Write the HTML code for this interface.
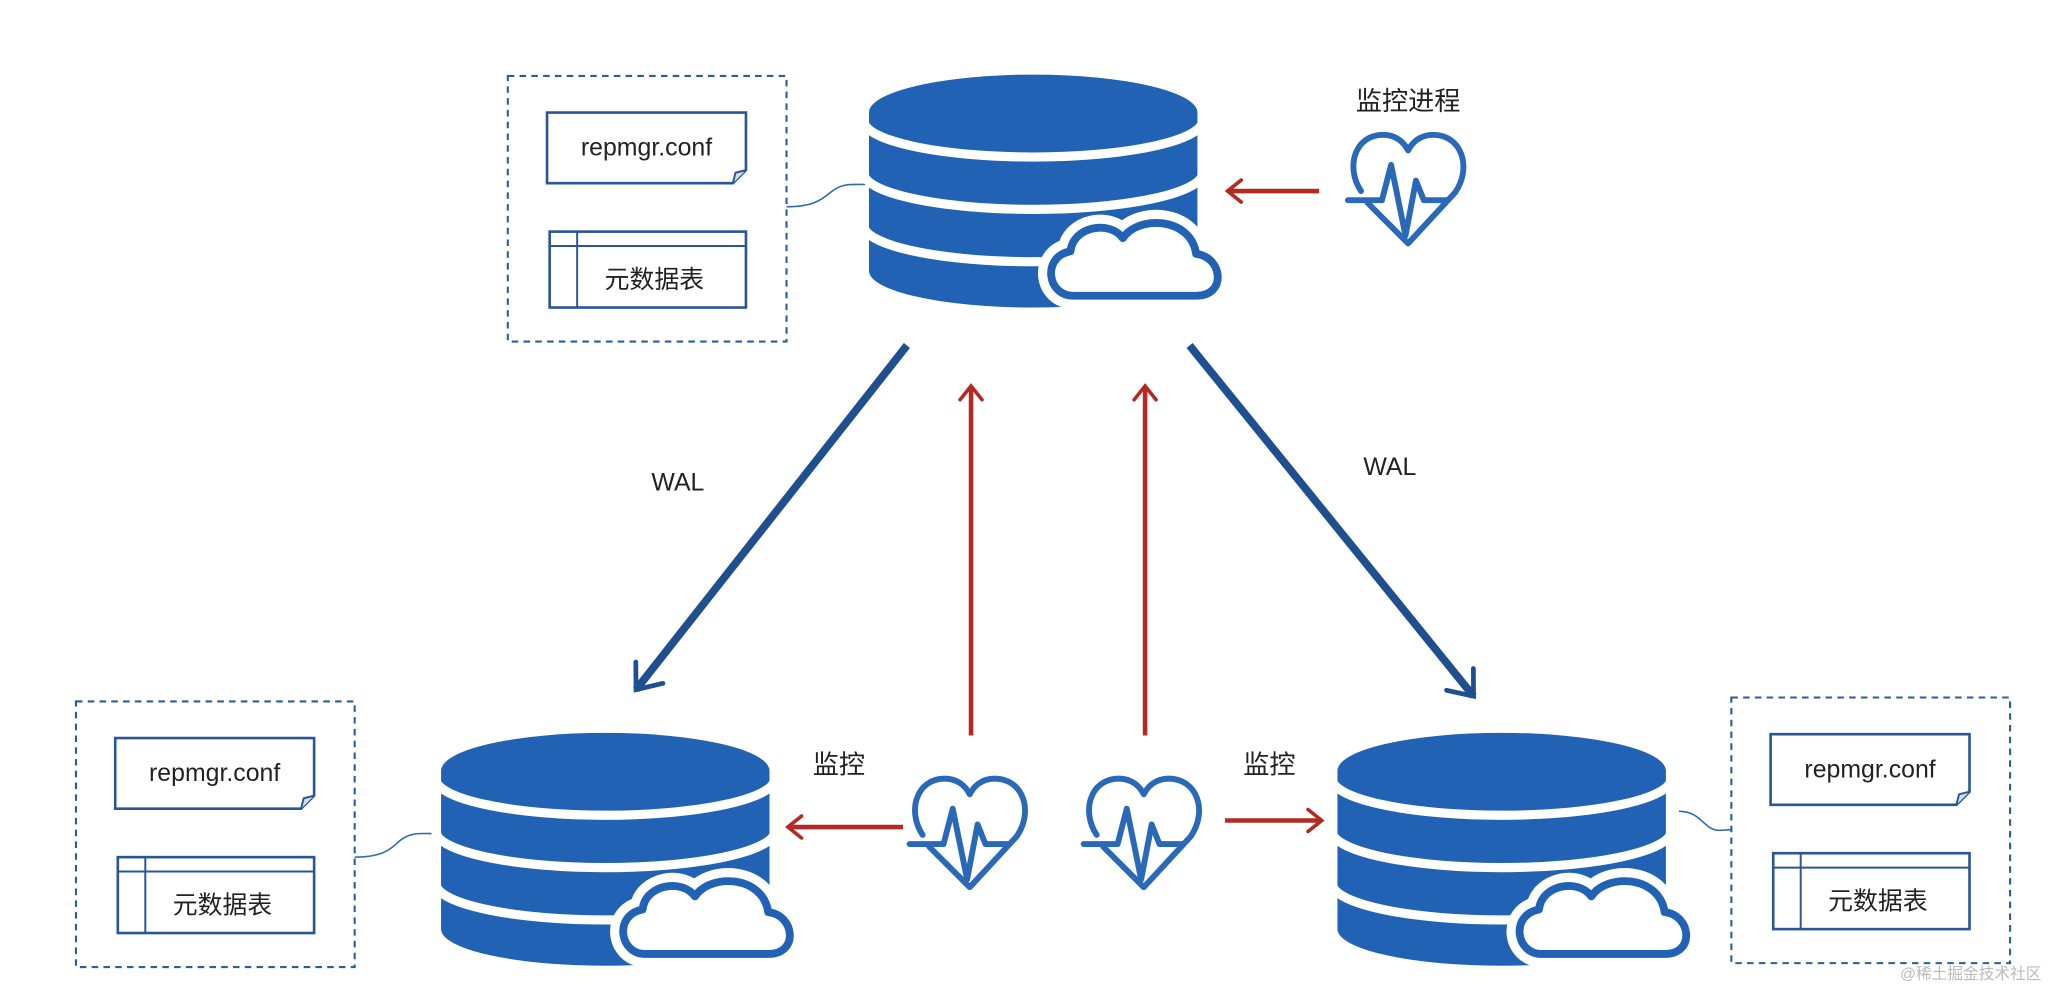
<!DOCTYPE html>
<html><head><meta charset="utf-8"><style>
html,body{margin:0;padding:0;background:#fff;}
svg{display:block;}
text{font-family:"Liberation Sans","Noto Sans CJK SC",sans-serif;fill:#222;}
</style></head><body>
<svg width="2052" height="988" viewBox="0 0 1568 755" xmlns="http://www.w3.org/2000/svg">
<defs>
  <g id="db">
    <path d="M664,86 L664,207 A125.5,28 0 0 0 915,207 L915,86 Z" fill="#2262b4"/>
    <ellipse cx="789.5" cy="86" rx="125.5" ry="29" fill="#2262b4"/>
    <path d="M660,92 A129.5,28 0 0 0 919,92" fill="none" stroke="#fff" stroke-width="7"/>
    <path d="M660,132 A129.5,28 0 0 0 919,132" fill="none" stroke="#fff" stroke-width="7"/>
    <path d="M660,172 A129.5,28 0 0 0 919,172" fill="none" stroke="#fff" stroke-width="7"/>
    <path d="M820,226 C800,226 796,196 818,192 C820,173 848,168 858,182 C870,164 910,166 914,194 C934,196 938,226 914,226 Z" fill="#fff" stroke="#fff" stroke-width="20" stroke-linejoin="round"/>
    <path d="M820,226 C800,226 796,196 818,192 C820,173 848,168 858,182 C870,164 910,166 914,194 C934,196 938,226 914,226 Z" fill="#fff" stroke="#2262b4" stroke-width="6" stroke-linejoin="round"/>
  </g>
  <g id="heart">
    <path d="M10,46 C-2,28 5,3 27,3 C37,3 43,9 46,15 C49,9 55,3 65,3 C87,3 95,28 82,47 L46,86 L15,55" fill="none" stroke="#2a68b8" stroke-width="4.5" stroke-linejoin="round" stroke-linecap="round"/>
    <path d="M0,53 L26,53 L33,26 L44,80 L52,38 L58,53 L76,53" fill="none" stroke="#2a68b8" stroke-width="4.5" stroke-linejoin="round" stroke-linecap="round"/>
  </g>
  <g id="files">
    <rect x="0" y="0" width="213" height="203" fill="none" stroke="#2a5d9a" stroke-width="1.6" stroke-dasharray="5,4"/>
    <path d="M30,28 L182,28 L182,72 L172,82 L30,82 Z" fill="#fff" stroke="#2a5598" stroke-width="2"/>
    <path d="M182,72 L174,74 L172,82" fill="#cfe0f3" stroke="#2a5598" stroke-width="1.5"/>
    <text x="106" y="61" font-size="19" text-anchor="middle">repmgr.conf</text>
    <rect x="32" y="119" width="150" height="58" fill="#fff" stroke="#2a5598" stroke-width="2"/>
    <line x1="32" y1="130" x2="182" y2="130" stroke="#2a5598" stroke-width="1.5"/>
    <line x1="53" y1="119" x2="53" y2="177" stroke="#2a5598" stroke-width="1.5"/>
    <text x="112" y="162" font-size="19" text-anchor="middle">元数据表</text>
  </g>
  <marker id="ar" viewBox="0 0 10 10" refX="6" refY="5" markerWidth="6" markerHeight="6" orient="auto" markerUnits="strokeWidth">
    <path d="M1,1 L6,5 L1,9" fill="none" stroke="#b22a22" stroke-width="1.3" stroke-linecap="round"/>
  </marker>
  <marker id="ab" viewBox="0 0 10 10" refX="6" refY="5" markerWidth="5.5" markerHeight="5.5" orient="auto" markerUnits="strokeWidth">
    <path d="M1,1 L6,5 L1,9" fill="none" stroke="#1f4f8e" stroke-width="1.1" stroke-linecap="round"/>
  </marker>
</defs>

<use href="#files" transform="translate(388,58)"/>
<use href="#files" transform="translate(58,536)"/>
<use href="#files" transform="translate(1323,533)"/>

<path d="M601,158 C625,158 630,150 636,146 C644,140 650,141 662,141" fill="none" stroke="#2a68b8" stroke-width="1.2"/>
<path d="M271,655 C295,655 300,647 306,642 C314,636 320,637 332,637" fill="none" stroke="#2a68b8" stroke-width="1.2"/>
<path d="M1283,620 C1296,620 1300,628 1306,632 C1312,636 1316,634 1323,634" fill="none" stroke="#2a68b8" stroke-width="1.2"/>

<use href="#db"/>
<use href="#db" transform="translate(-327,503)"/>
<use href="#db" transform="translate(358,503)"/>

<use href="#heart" transform="translate(1030,100)"/>
<use href="#heart" transform="translate(695,592)"/>
<use href="#heart" transform="translate(828,592)"/>

<line x1="693" y1="264" x2="486" y2="527" stroke="#1f4f8e" stroke-width="6" marker-end="url(#ab)"/>
<line x1="909" y1="264" x2="1126" y2="532" stroke="#1f4f8e" stroke-width="6" marker-end="url(#ab)"/>

<line x1="1008" y1="146" x2="938" y2="146" stroke="#b22a22" stroke-width="3.5" marker-end="url(#ar)"/>
<line x1="742" y1="562" x2="742" y2="295" stroke="#b22a22" stroke-width="3.5" marker-end="url(#ar)"/>
<line x1="875" y1="562" x2="875" y2="295" stroke="#b22a22" stroke-width="3.5" marker-end="url(#ar)"/>
<line x1="690" y1="632" x2="602" y2="632" stroke="#b22a22" stroke-width="3.5" marker-end="url(#ar)"/>
<line x1="936" y1="627" x2="1010" y2="627" stroke="#b22a22" stroke-width="3.5" marker-end="url(#ar)"/>

<text x="1076" y="84" font-size="20" text-anchor="middle">监控进程</text>
<text x="518" y="375" font-size="19" text-anchor="middle">WAL</text>
<text x="1062" y="363" font-size="19" text-anchor="middle">WAL</text>
<text x="641" y="591" font-size="20" text-anchor="middle">监控</text>
<text x="970" y="591" font-size="20" text-anchor="middle">监控</text>
<text x="1560" y="748" font-size="12" text-anchor="end" style="fill:#bbb">@稀土掘金技术社区</text>
</svg>
</body></html>
